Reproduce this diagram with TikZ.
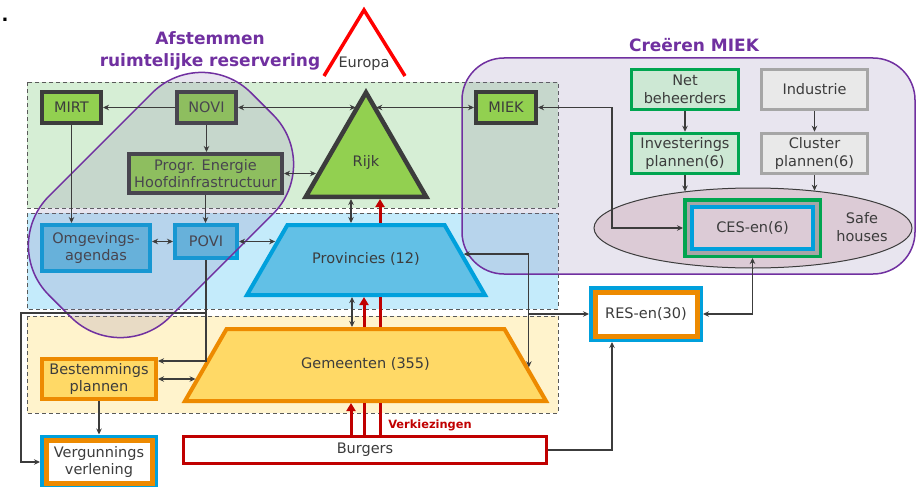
\documentclass[tikz,border=0pt]{standalone}
\usepackage{fontspec}
\setmainfont{DejaVu Sans}
\usetikzlibrary{shapes.geometric,arrows.meta,calc}

\definecolor{ink}{HTML}{3C3C3C}
\definecolor{rijkgreen}{HTML}{92D050}
\definecolor{provblue}{HTML}{00A0DC}
\definecolor{provfill}{HTML}{62C0E6}
\definecolor{gemorange}{HTML}{ED8A00}
\definecolor{gemfill}{HTML}{FFD966}
\definecolor{burgred}{HTML}{C00000}
\definecolor{europared}{HTML}{FF0000}
\definecolor{bandgreen}{HTML}{D6EED5}
\definecolor{bandblue}{HTML}{C4EBFB}
\definecolor{bandyellow}{HTML}{FFF3CC}
\definecolor{regionpurple}{HTML}{7030A0}
\definecolor{overlay}{HTML}{8070A8}
\definecolor{netgreen}{HTML}{00A550}
\definecolor{netfill}{HTML}{CDE8D4}
\definecolor{indgray}{HTML}{A6A6A6}
\definecolor{indfill}{HTML}{E9E9E9}
\definecolor{safefill}{HTML}{DCCBD6}

\tikzset{
  lbl/.style={font=\fontsize{14.5}{17.5}\selectfont, text=ink, align=center, inner sep=0pt},
  rijkbox/.style={lbl, draw=ink, line width=4pt, fill=rijkgreen},
  provbox/.style={lbl, draw=provblue, line width=4pt, fill=provfill},
  gembox/.style={lbl, draw=gemorange, line width=4pt, fill=gemfill},
  trap/.style={trapezium, trapezium angle=60, trapezium stretches body=true, text height=11pt, text depth=3.5pt, inner xsep=0pt},
  netbox/.style={lbl, draw=netgreen, line width=3.5pt, fill=netfill, minimum width=107pt, minimum height=40pt},
  indbox/.style={lbl, draw=indgray, line width=3.5pt, fill=indfill, minimum width=106pt, minimum height=40pt},
  dualbox/.style={lbl, fill=white, draw=gemorange, line width=5pt, preaction={draw=provblue, line width=12pt}, outer sep=6pt},
  band/.style={draw=ink!85, dash pattern=on 4pt off 3pt, line width=1pt},
  region/.style={draw=regionpurple, line width=1.5pt, fill=overlay, fill opacity=0.18},
  title/.style={font=\fontsize{17}{22}\selectfont\bfseries, text=regionpurple, align=center, inner sep=0pt},
  redline/.style={draw=burgred, line width=3pt},
  redarr/.style={redline, arrows={-Triangle[length=8pt,width=9pt]}},
  link/.style={draw=ink, line width=1.3pt}
}

\begin{document}
\begin{tikzpicture}[x=1pt, y=-1pt, >={Stealth[length=6pt,width=5.5pt]}]
  \useasboundingbox (0,0) rectangle (918,487);

  % bestuurslagen
  \draw[band, fill=bandgreen] (27,82) rectangle (558,208);
  \draw[band, fill=bandblue] (27,213) rectangle (558,309);
  \draw[band, fill=bandyellow] (27,316) rectangle (558,413);
  \draw[region, rounded corners=42pt] (462,58) rectangle (915,274);

  % Europa
  \draw[draw=europared, line width=3.5pt] (324,76) -- (364,10) -- (405,76);
  \node[lbl] (europa) at (364,64) {Europa};

  % rijk
  \node[rijkbox, minimum width=59pt, minimum height=31pt] (mirt) at (71.5,107.5) {MIRT};
  \node[rijkbox, minimum width=59pt, minimum height=31pt] (novi) at (206.5,107.5) {NOVI};
  \node[rijkbox, minimum width=153pt, minimum height=39pt] (progr) at (205.5,173.5) {Progr. Energie\\Hoofdinfrastructuur};
  \node[rijkbox, regular polygon, regular polygon sides=3, minimum size=139pt, line width=4.5pt] (rijk) at (366,162) {Rijk};
  \node[rijkbox, minimum width=60pt, minimum height=31pt] (miek) at (506,107.5) {MIEK};

  % provincies
  \node[provbox, minimum width=108pt, minimum height=46pt] (omg) at (96,248) {Omgevings-\\agendas};
  \node[provbox, minimum width=62pt, minimum height=33pt] (povi) at (206,241.5) {POVI};
  \node[provbox, trap, inner ysep=27.75pt, minimum width=238pt] (prov) at (366,260) {Provincies (12)};

  % gemeenten
  \node[gembox, minimum width=114pt, minimum height=40pt] (best) at (99,379) {Bestemmings\\plannen};
  \node[gembox, trap, inner ysep=28.75pt, minimum width=361pt] (gem) at (365.5,365) {Gemeenten (355)};

  \node[lbl, draw=burgred, line width=3pt, fill=white, minimum width=363pt, minimum height=27pt] (burg) at (365,450) {Burgers};
  \node[dualbox, minimum width=106pt, minimum height=43pt] (verg) at (99,462) {Vergunnings\\verlening};
  \node[dualbox, minimum width=102pt, minimum height=44pt] (res) at (646,314) {RES-en(30)};

  % MIEK
  \node[netbox] (net) at (685,89.5) {Net\\beheerders};
  \node[indbox] (indu) at (814.5,89.5) {Industrie};
  \node[netbox] (inv) at (685,153.5) {Investerings\\plannen(6)};
  \node[indbox] (clus) at (814.5,153.5) {Cluster\\plannen(6)};
  \node[ellipse, draw=ink, line width=1pt, fill=safefill, minimum width=318pt, minimum height=80pt] (safe) at (753,228) {};
  \node[lbl] (safetxt) at (862,227) {Safe\\houses};
  \node[lbl, fill=safefill, draw=provblue, line width=4pt, minimum width=121pt, minimum height=42pt,
        preaction={draw=netgreen, line width=18pt}, preaction={draw=indgray, line width=11pt}, outer sep=9pt] (ces) at (752.5,228) {CES-en(6)};

  % afstemmen
  \draw[region, shift={(161,205)}, rotate=45, rounded corners=70pt] (-143,-85.5) rectangle (143,85.5);

  \coordinate (rijkNL) at ($(rijk.corner 1)!0.16!(rijk.corner 2)$);
  \coordinate (rijkNR) at ($(rijk.corner 1)!0.16!(rijk.corner 3)$);
  \coordinate (rijkPL) at ($(rijk.corner 1)!0.78!(rijk.corner 2)$);
  \coordinate (provL) at ($(prov.top left corner)!0.26!(prov.bottom left corner)$);
  \coordinate (provR) at ($(prov.top right corner)!0.42!(prov.bottom right corner)$);
  \coordinate (gemL) at ($(gem.top left corner)!0.68!(gem.bottom left corner)$);
  \coordinate (gemR) at ($(gem.top right corner)!0.53!(gem.bottom right corner)$);
  \coordinate (split) at (206,313);

  \draw[link, ->] (novi.west) -- (mirt.east);
  \draw[link, <->] (novi.east) -- (novi.east -| rijkNL);
  \draw[link, <->] (miek.west) -- (miek.west -| rijkNR);
  \draw[link, ->] (novi.south) -- (novi.south |- progr.north);
  \draw[link, <->] (progr.east) -- (progr.east -| rijkPL);
  \draw[link, ->] (mirt.south) -- (mirt.south |- omg.north);
  \draw[link, ->] (progr.south) -- (progr.south |- povi.north);
  \draw[link, <->] (povi.west) -- (povi.west -| omg.east);
  \draw[link, <->] (povi.east) -- (povi.east -| provL);
  \draw[link, <->] ([xshift=-15pt]rijk.south) -- ([xshift=-15pt]rijk.south |- prov.north);
  \draw[link, <->] ([xshift=-14pt]prov.south) -- ([xshift=-14pt]prov.south |- gem.north);
  \draw[link, <->] (provR) -| (gemR);
  \draw[link, ->] (gemR |- res.west) -- (res.west);
  \draw[link, <->] (best.east) -- (best.east -| gemL);
  \draw[link, ->] (povi.south) |- ([yshift=18pt]best.east);
  \draw[link, ->] (split) -- ++(-185,0) |- (verg.west);
  \draw[link, ->] (best.south) -- (verg.north);
  \draw[link, ->] (burg.east) -| ([xshift=-34pt]res.south);
  \draw[link, <->] (miek.east) -- ++(74,0) |- (ces.west);
  \draw[link, ->] (net.south) -- (inv.north);
  \draw[link, ->] (indu.south) -- (clus.north);
  \draw[link, ->] (inv.south) -- (inv.south |- safe.152);
  \draw[link, ->] (clus.south) -- (clus.south |- safe.31);
  \draw[link, <->] (ces.south) |- (res.east);

  % verkiezingen
  \draw[redarr] ([xshift=-14pt]burg.north) -- ([xshift=-14pt]burg.north |- gem.south);
  \draw[redline] ([xshift=-1pt]burg.north) -- ([xshift=-1pt]burg.north |- gem.south);
  \draw[redarr] ([xshift=-1pt]burg.north |- gem.north) -- ([xshift=-1pt]burg.north |- prov.south);
  \draw[redline] ([xshift=15pt]burg.north) -- ([xshift=15pt]burg.north |- gem.south);
  \draw[redline] ([xshift=15pt]burg.north |- gem.north) -- ([xshift=15pt]burg.north |- prov.south);
  \draw[redarr] ([xshift=15pt]burg.north |- prov.north) -- ([xshift=15pt]burg.north |- rijk.south);
  \node[font=\fontsize{11.4}{13}\selectfont\bfseries, text=burgred, inner sep=0pt] (verk) at (430,425) {Verkiezingen};

  \node[title] (afst) at (210,51) {Afstemmen\\ruimtelijke reservering};
  \node[title] (creeren) at (694,45) {Creëren MIEK};
  \node[font=\fontsize{18}{20}\selectfont\bfseries, inner sep=0pt] (dot) at (5,20) {.};
\end{tikzpicture}
\end{document}
